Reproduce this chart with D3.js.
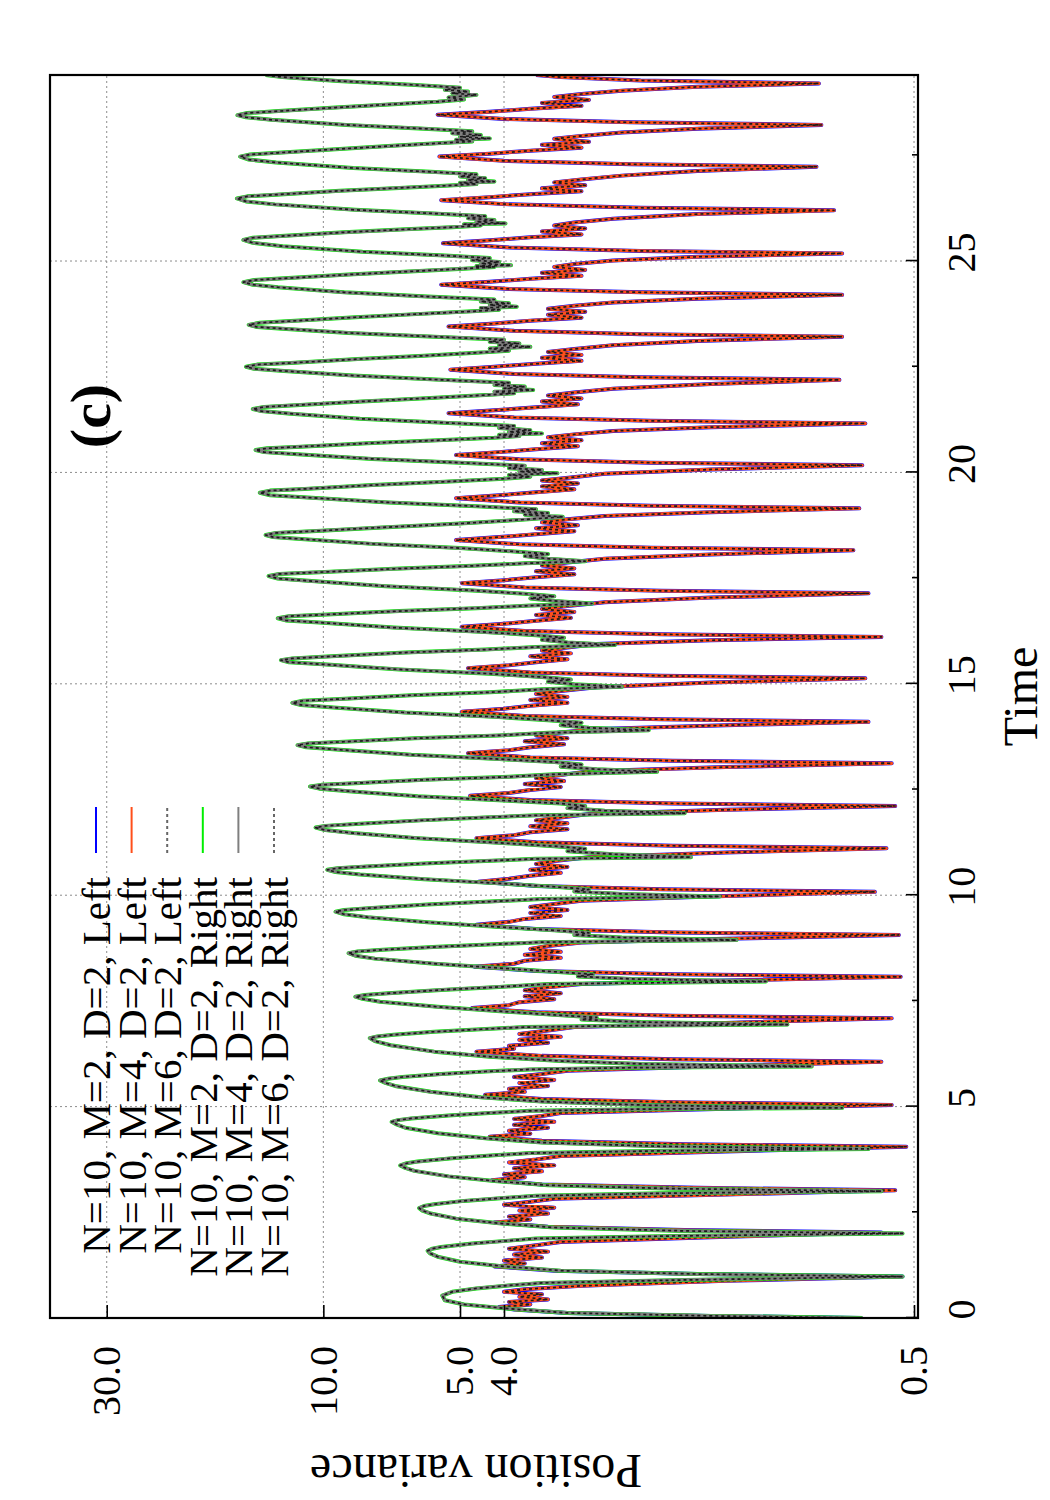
<!DOCTYPE html>
<html>
<head>
<meta charset="utf-8">
<script src="https://cdn.jsdelivr.net/npm/d3@7"></script>
<style>
  body { margin: 0; background: #ffffff; }
  svg text { font-family: "Liberation Serif", "Times New Roman", serif; }
</style>
</head>
<body>
<svg id="chart"></svg>
<script>
// time ticks and variance ticks
var timeTicks = [0, 5, 10, 15, 20, 25];
var timeMinorTicks = [2.5, 7.5, 12.5, 17.5, 22.5, 27.5];
var varianceTicks = [0.5, 4.0, 5.0, 10.0, 30.0];

var seriesLabels = [
    "N=10, M=2, D=2, Left",
    "N=10, M=4, D=2, Left",
    "N=10, M=6, D=2, Left",
    "N=10, M=2, D=2, Right",
    "N=10, M=4, D=2, Right",
    "N=10, M=6, D=2, Right"
];
var seriesSide = ["Left", "Left", "Left", "Right", "Right", "Right"];

// [time, position variance], left boundary
var leftData = [
    [0,0.65],[0.05,1.4],[0.12,2.9],[0.2,3.8],[0.26,4.1],[0.32,3.5],[0.38,3.9],[0.44,3.2],[0.5,3.7],[0.56,3.3],[0.62,4.0],[0.68,3.6],[0.76,2.7],[0.88,1.3],
    [0.98,0.53],[1.04,1.5],[1.12,3.1],[1.22,4.2],[1.29,3.6],[1.36,4.0],[1.43,3.3],[1.5,3.8],[1.57,3.2],[1.64,3.9],[1.72,3.4],[1.8,3.0],[1.91,1.4],
    [2.02,0.59],[2.08,1.6],[2.16,3.2],[2.26,4.2],[2.33,3.5],[2.4,3.9],[2.47,3.2],[2.54,3.7],[2.61,3.1],[2.68,4.0],[2.75,3.5],[2.82,3.1],[2.92,1.3],
    [3.02,0.55],[3.08,1.5],[3.16,3.3],[3.26,4.25],[3.33,3.6],[3.4,4.0],[3.47,3.3],[3.54,3.8],[3.61,3.1],[3.68,3.9],[3.75,3.4],[3.83,3.0],[3.94,1.3],
    [4.05,0.52],[4.11,1.6],[4.19,3.3],[4.29,4.3],[4.36,3.5],[4.43,3.9],[4.5,3.2],[4.57,3.8],[4.64,3.1],[4.71,3.8],[4.78,3.3],[4.85,3.0],[4.95,1.3],
    [5.04,0.56],[5.1,1.6],[5.18,3.3],[5.28,4.4],[5.35,3.6],[5.42,3.9],[5.49,3.2],[5.56,3.7],[5.63,3.1],[5.7,3.8],[5.77,3.3],[5.85,2.9],[5.96,1.3],
    [6.06,0.59],[6.12,1.7],[6.2,3.3],[6.3,4.6],[6.37,3.8],[6.44,3.9],[6.51,3.2],[6.58,3.7],[6.65,3.0],[6.72,3.7],[6.8,3.2],[6.88,2.8],[6.98,1.3],
    [7.09,0.56],[7.15,1.7],[7.23,3.4],[7.33,4.7],[7.4,3.9],[7.47,3.7],[7.54,3.1],[7.61,3.6],[7.68,3.0],[7.75,3.6],[7.82,3.2],[7.9,2.7],[7.98,1.3],
    [8.07,0.535],[8.13,1.7],[8.21,3.4],[8.31,4.65],[8.38,3.8],[8.45,3.6],[8.52,3.0],[8.59,3.6],[8.66,3.0],[8.73,3.5],[8.8,3.2],[8.88,2.7],[8.97,1.3],
    [9.06,0.54],[9.12,1.7],[9.2,3.4],[9.3,4.6],[9.37,3.9],[9.44,3.6],[9.51,3.0],[9.58,3.5],[9.65,2.9],[9.72,3.5],[9.79,3.1],[9.87,2.7],[9.98,1.3],
    [10.08,0.61],[10.14,1.8],[10.22,3.4],[10.32,4.55],[10.39,3.9],[10.46,3.5],[10.53,3.0],[10.6,3.5],[10.67,2.9],[10.74,3.4],[10.81,3.1],[10.9,2.6],[11.01,1.3],
    [11.11,0.575],[11.17,1.7],[11.25,3.4],[11.35,4.6],[11.42,3.8],[11.49,3.5],[11.56,2.9],[11.63,3.5],[11.7,2.9],[11.77,3.4],[11.84,3.0],[11.92,2.6],[12.02,1.3],
    [12.11,0.55],[12.17,1.7],[12.25,3.5],[12.35,4.75],[12.42,3.9],[12.49,3.5],[12.56,3.0],[12.63,3.6],[12.7,2.95],[12.77,3.4],[12.84,3.0],[12.93,2.6],[13.03,1.3],
    [13.12,0.56],[13.18,1.7],[13.26,3.5],[13.36,4.8],[13.43,3.9],[13.5,3.5],[13.57,2.95],[13.64,3.6],[13.71,2.9],[13.78,3.4],[13.85,3.0],[13.93,2.5],[14.02,1.3],
    [14.1,0.63],[14.16,1.8],[14.24,3.6],[14.34,4.95],[14.41,4.0],[14.48,3.5],[14.55,2.9],[14.62,3.5],[14.69,2.9],[14.76,3.4],[14.83,3.0],[14.92,2.5],[15.03,1.4],
    [15.13,0.64],[15.19,1.8],[15.27,3.5],[15.37,4.8],[15.44,3.9],[15.51,3.4],[15.58,2.9],[15.65,3.5],[15.72,2.85],[15.79,3.3],[15.86,2.9],[15.94,2.5],[16.03,1.4],
    [16.11,0.59],[16.17,1.8],[16.25,3.6],[16.35,4.95],[16.42,4.0],[16.49,3.4],[16.56,2.85],[16.63,3.4],[16.7,2.8],[16.77,3.3],[16.84,2.9],[16.93,2.4],[17.04,1.4],
    [17.14,0.63],[17.2,1.8],[17.28,3.6],[17.38,4.95],[17.45,4.0],[17.52,3.4],[17.59,2.8],[17.66,3.4],[17.73,2.8],[17.8,3.3],[17.87,2.9],[17.96,2.4],[18.06,1.4],
    [18.16,0.68],[18.22,1.9],[18.3,3.7],[18.4,5.1],[18.47,4.1],[18.54,3.4],[18.61,2.8],[18.68,3.4],[18.75,2.75],[18.82,3.3],[18.89,2.9],[18.97,2.4],[19.06,1.4],
    [19.15,0.66],[19.21,1.9],[19.29,3.7],[19.39,5.1],[19.46,4.1],[19.53,3.4],[19.6,2.8],[19.67,3.3],[19.74,2.75],[19.81,3.3],[19.88,2.85],[19.97,2.4],[20.07,1.4],
    [20.17,0.65],[20.23,1.9],[20.31,3.7],[20.41,5.1],[20.48,4.1],[20.55,3.4],[20.62,2.75],[20.69,3.3],[20.76,2.7],[20.83,3.2],[20.9,2.8],[20.98,2.3],[21.07,1.4],
    [21.16,0.64],[21.22,1.9],[21.3,3.8],[21.4,5.3],[21.47,4.2],[21.54,3.4],[21.61,2.75],[21.68,3.3],[21.75,2.7],[21.82,3.2],[21.89,2.8],[21.98,2.3],[22.09,1.4],
    [22.19,0.73],[22.25,2.0],[22.33,3.8],[22.43,5.25],[22.5,4.2],[22.57,3.4],[22.64,2.7],[22.71,3.3],[22.78,2.7],[22.85,3.2],[22.92,2.8],[23.01,2.3],[23.11,1.5],
    [23.21,0.72],[23.27,2.0],[23.35,3.8],[23.45,5.3],[23.52,4.2],[23.59,3.5],[23.66,2.7],[23.73,3.2],[23.8,2.65],[23.87,3.2],[23.94,2.8],[24.02,2.3],[24.11,1.5],
    [24.2,0.72],[24.26,2.0],[24.34,3.9],[24.44,5.5],[24.51,4.3],[24.58,3.5],[24.65,2.7],[24.72,3.3],[24.79,2.65],[24.86,3.1],[24.93,2.8],[25.01,2.3],[25.1,1.5],
    [25.18,0.72],[25.24,2.0],[25.32,3.9],[25.42,5.45],[25.49,4.3],[25.56,3.5],[25.63,2.7],[25.7,3.3],[25.77,2.65],[25.84,3.1],[25.91,2.8],[26.0,2.3],[26.11,1.5],
    [26.2,0.75],[26.26,2.0],[26.34,3.9],[26.44,5.5],[26.51,4.3],[26.58,3.5],[26.65,2.7],[26.72,3.3],[26.79,2.65],[26.86,3.1],[26.93,2.7],[27.02,2.2],[27.13,1.5],
    [27.23,0.82],[27.29,2.1],[27.37,4.0],[27.47,5.55],[27.54,4.3],[27.61,3.5],[27.68,2.7],[27.75,3.3],[27.82,2.6],[27.89,3.1],[27.96,2.7],[28.04,2.2],[28.13,1.5],
    [28.22,0.8],[28.28,2.1],[28.36,4.0],[28.46,5.6],[28.53,4.3],[28.6,3.5],[28.67,2.7],[28.74,3.3],[28.81,2.6],[28.88,3.1],[28.95,2.7],[29.03,2.2],[29.12,1.5],
    [29.2,0.81],[29.27,2.0],[29.35,3.0],[29.4,3.4]
];

// [time, position variance], right boundary
var rightData = [
    [0,0.65],[0.05,1.4],[0.12,2.9],[0.22,3.9],[0.32,4.9],[0.42,5.4],[0.53,5.47],[0.62,5.2],[0.7,4.6],[0.77,3.9],[0.83,3.3],[0.9,1.6],
    [0.98,0.53],[1.04,1.5],[1.12,3.0],[1.22,4.0],[1.33,5.0],[1.45,5.6],[1.53,5.82],[1.59,5.89],[1.64,5.75],[1.68,5.5],[1.76,4.7],[1.83,3.9],[1.88,3.4],[1.94,1.7],
    [2.0,0.53],[2.06,1.6],[2.14,3.1],[2.24,4.1],[2.35,5.1],[2.47,5.8],[2.54,6.05],[2.6,6.15],[2.65,6.0],[2.69,5.7],[2.77,4.9],[2.84,4.0],[2.89,3.4],[2.95,1.8],
    [3.0,0.59],[3.06,1.7],[3.14,3.2],[3.24,4.2],[3.35,5.3],[3.48,6.3],[3.55,6.6],[3.61,6.77],[3.66,6.55],[3.7,6.2],[3.78,5.2],[3.85,4.2],[3.9,3.5],[3.95,1.9],
    [4.0,0.63],[4.06,1.8],[4.15,3.3],[4.25,4.4],[4.37,5.6],[4.5,6.6],[4.58,6.9],[4.64,7.07],[4.68,6.85],[4.72,6.4],[4.79,5.3],[4.85,4.3],[4.9,3.5],[4.94,2.0],
    [4.97,0.72],[5.03,1.9],[5.12,3.3],[5.22,4.5],[5.35,5.8],[5.48,6.9],[5.56,7.3],[5.62,7.5],[5.66,7.2],[5.7,6.7],[5.77,5.5],[5.83,4.4],[5.88,3.5],[5.92,2.1],
    [5.95,0.84],[6.01,2.0],[6.08,3.0],[6.18,4.3],[6.3,5.7],[6.45,7.1],[6.55,7.7],[6.62,7.9],[6.66,7.6],[6.7,7.0],[6.77,5.7],[6.83,4.5],[6.88,3.6],[6.91,2.3],
    [6.94,0.95],[7.0,2.0],[7.06,2.7],[7.11,2.5],[7.17,3.1],[7.25,4.0],[7.36,5.6],[7.48,7.5],[7.55,8.2],[7.6,8.5],[7.64,8.1],[7.68,7.2],[7.76,5.5],[7.83,4.1],[7.9,3.2],
    [7.96,1.06],[8.02,2.1],[8.08,2.75],[8.13,2.55],[8.19,3.1],[8.27,4.0],[8.38,5.7],[8.5,7.7],[8.57,8.5],[8.63,8.8],[8.67,8.4],[8.71,7.4],[8.78,5.6],[8.84,4.2],[8.89,3.3],
    [8.94,1.23],[9.0,2.2],[9.06,2.8],[9.11,2.6],[9.17,3.1],[9.25,4.1],[9.36,5.9],[9.48,8.0],[9.55,9.0],[9.61,9.4],[9.65,9.0],[9.7,7.8],[9.78,5.9],[9.85,4.3],[9.91,3.3],
    [9.97,1.34],[10.03,2.2],[10.09,2.8],[10.14,2.6],[10.2,3.1],[10.28,4.1],[10.38,6.0],[10.49,8.3],[10.55,9.4],[10.6,9.8],[10.64,9.3],[10.68,8.0],[10.75,6.0],[10.81,4.4],[10.86,3.4],
    [10.9,1.55],[10.97,2.3],[11.04,2.9],[11.1,2.65],[11.16,3.1],[11.24,4.1],[11.35,6.2],[11.47,8.6],[11.54,9.9],[11.6,10.4],[11.64,9.9],[11.69,8.3],[11.77,6.1],[11.84,4.4],[11.89,3.4],
    [11.94,1.6],[12.0,2.4],[12.06,2.9],[12.11,2.65],[12.17,3.0],[12.24,4.0],[12.34,6.2],[12.46,8.8],[12.52,10.2],[12.57,10.7],[12.61,10.1],[12.65,8.5],[12.73,6.0],[12.8,3.9],[12.86,3.1],
    [12.92,1.84],[12.98,2.5],[13.04,3.0],[13.09,2.7],[13.15,3.1],[13.22,4.1],[13.32,6.4],[13.44,9.2],[13.5,10.9],[13.55,11.4],[13.59,10.8],[13.63,9.0],[13.71,6.3],[13.78,4.1],[13.84,3.2],
    [13.9,1.92],[13.96,2.6],[14.02,3.0],[14.08,2.7],[14.14,3.2],[14.22,4.2],[14.32,6.6],[14.44,9.5],[14.5,11.2],[14.55,11.7],[14.6,11.1],[14.64,9.2],[14.73,6.4],[14.8,4.3],[14.87,3.3],
    [14.93,2.2],[14.99,2.8],[15.05,3.2],[15.1,2.85],[15.16,3.3],[15.24,4.3],[15.34,6.8],[15.46,10.0],[15.51,11.9],[15.56,12.4],[15.6,11.7],[15.65,9.6],[15.74,6.6],[15.81,4.4],[15.87,3.4],
    [15.92,2.28],[15.98,2.9],[16.04,3.3],[16.09,2.95],[16.15,3.4],[16.23,4.5],[16.33,7.0],[16.45,10.2],[16.5,12.1],[16.55,12.6],[16.6,11.9],[16.64,9.8],[16.72,6.8],[16.79,4.6],[16.85,3.5],
    [16.9,2.56],[16.96,3.1],[17.02,3.5],[17.07,3.1],[17.13,3.6],[17.21,4.7],[17.31,7.3],[17.43,10.6],[17.49,12.6],[17.55,13.2],[17.6,12.5],[17.64,10.2],[17.72,7.0],[17.79,4.7],[17.85,3.6],
    [17.9,2.65],[17.96,3.2],[18.02,3.6],[18.07,3.2],[18.13,3.8],[18.21,5.0],[18.31,7.8],[18.42,11.0],[18.47,12.9],[18.52,13.4],[18.57,12.7],[18.61,10.6],[18.7,7.4],[18.79,5.0],[18.87,3.8],
    [18.95,2.97],[19.0,3.6],[19.04,3.2],[19.08,3.8],[19.13,3.4],[19.2,4.6],[19.29,7.2],[19.4,10.6],[19.46,13.1],[19.52,13.8],[19.57,13.1],[19.61,11.0],[19.7,7.8],[19.78,5.4],[19.85,4.0],[19.9,3.5],[19.94,3.9],
    [19.98,3.05],[20.02,3.7],[20.06,3.3],[20.1,3.9],[20.16,3.6],[20.23,5.0],[20.32,7.8],[20.43,11.4],[20.48,13.5],[20.53,14.1],[20.57,13.3],[20.61,11.2],[20.69,8.0],[20.76,5.6],[20.82,4.2],[20.86,3.7],[20.89,4.1],
    [20.92,3.3],[20.96,3.9],[21.0,3.5],[21.05,4.1],[21.1,3.8],[21.17,5.3],[21.27,8.3],[21.39,11.8],[21.45,13.7],[21.5,14.3],[21.55,13.5],[21.59,11.5],[21.68,8.2],[21.76,5.8],[21.83,4.4],[21.87,3.8],[21.91,4.2],
    [21.95,3.45],[21.99,4.0],[22.03,3.6],[22.07,4.2],[22.12,3.9],[22.19,5.5],[22.29,8.6],[22.4,12.2],[22.45,14.2],[22.5,14.8],[22.55,14.0],[22.59,11.8],[22.68,8.4],[22.76,6.0],[22.83,4.6],[22.88,3.9],[22.93,4.3],
    [22.97,3.5],[23.01,4.1],[23.05,3.7],[23.09,4.3],[23.14,4.0],[23.21,5.7],[23.3,8.8],[23.4,12.3],[23.44,14.0],[23.49,14.6],[23.54,13.8],[23.58,11.8],[23.67,8.5],[23.75,6.1],[23.81,4.7],[23.85,4.1],[23.89,4.5],
    [23.92,3.75],[23.96,4.3],[24.0,3.9],[24.04,4.5],[24.09,4.2],[24.16,5.9],[24.26,9.0],[24.38,12.6],[24.44,14.3],[24.5,15.0],[24.55,14.2],[24.59,12.2],[24.68,8.8],[24.76,6.3],[24.82,4.9],[24.86,4.2],[24.88,4.6],
    [24.9,3.86],[24.94,4.5],[24.98,4.1],[25.02,4.7],[25.07,4.3],[25.13,5.4],[25.22,8.2],[25.35,12.3],[25.43,14.3],[25.5,15.0],[25.55,14.3],[25.59,12.4],[25.68,9.0],[25.75,6.6],[25.8,5.2],[25.84,4.5],[25.87,4.9],
    [25.89,3.97],[25.93,4.6],[25.97,4.2],[26.01,4.8],[26.06,4.4],[26.12,5.6],[26.21,8.5],[26.34,12.8],[26.41,14.8],[26.48,15.5],[26.53,14.7],[26.57,12.7],[26.66,9.2],[26.73,6.8],[26.78,5.4],[26.82,4.6],[26.85,5.0],
    [26.88,4.2],[26.92,4.8],[26.96,4.4],[27.0,5.0],[27.05,4.6],[27.11,5.8],[27.2,8.6],[27.33,12.7],[27.4,14.6],[27.47,15.25],[27.52,14.5],[27.56,12.6],[27.65,9.2],[27.73,6.9],[27.79,5.5],[27.83,4.7],[27.87,5.1],
    [27.9,4.3],[27.94,5.0],[27.98,4.5],[28.02,5.2],[28.07,4.7],[28.13,6.0],[28.22,8.9],[28.34,13.0],[28.4,14.8],[28.45,15.46],[28.5,14.7],[28.54,12.8],[28.63,9.4],[28.71,7.0],[28.77,5.6],[28.82,4.9],[28.87,5.3],
    [28.93,4.6],[28.97,5.2],[29.01,4.8],[29.05,5.4],[29.1,5.0],[29.17,6.4],[29.26,9.3],[29.35,12.3],[29.4,13.4]
];

// line styles, kept apart from the values
var seriesStyles = [
    { color: "#0000ff", width: 4.0, dash: null },
    { color: "#ff4f1a", width: 3.2, dash: null },
    { color: "#1a1a1a", width: 1.7, dash: "3,3" },
    { color: "#00ee00", width: 4.0, dash: null },
    { color: "#7f7f7f", width: 3.2, dash: null },
    { color: "#1a1a1a", width: 1.7, dash: "3,3" }
];

var W = 1050, H = 1500;
// plot area in the unrotated frame (u along time, v along variance)
var uLeft = 182, uRight = 1425, vTop = 50, vBottom = 918;

var svg = d3.select("#chart")
    .attr("width", W)
    .attr("height", H)
;

svg.append("rect")
    .attr("width", W)
    .attr("height", H)
    .attr("fill", "#ffffff")
;

// whole gnuplot page is turned a quarter turn counter clockwise
var page = svg.append("g")
    .attr("transform", "translate(0," + H + ") rotate(-90)")
;

var x = d3.scaleLinear().domain([0, 29.4]).range([uLeft, uRight]);
var y = d3.scaleLog().domain([0.49, 40]).range([vBottom, vTop]);

page.append("clipPath")
    .attr("id", "plotClip")
    .append("rect")
        .attr("x", uLeft)
        .attr("y", vTop)
        .attr("width", uRight - uLeft)
        .attr("height", vBottom - vTop)
;

// grid
var grid = page.append("g").attr("class", "grid")
    .attr("stroke", "#8c8c8c")
    .attr("stroke-width", 1)
    .attr("stroke-dasharray", "2,3")
;
grid.selectAll("line.gx").data(timeTicks).enter().append("line")
    .attr("class", "gx")
    .attr("x1", function(d){ return x(d); })
    .attr("x2", function(d){ return x(d); })
    .attr("y1", vTop)
    .attr("y2", vBottom)
;
grid.selectAll("line.gy").data(varianceTicks).enter().append("line")
    .attr("class", "gy")
    .attr("x1", uLeft)
    .attr("x2", uRight)
    .attr("y1", function(d){ return y(d); })
    .attr("y2", function(d){ return y(d); })
;

// curves
var line = d3.line()
    .x(function(d){ return x(d[0]); })
    .y(function(d){ return y(d[1]); })
;

var curves = page.append("g").attr("clip-path", "url(#plotClip)");
seriesLabels.forEach(function(name, i){
    var st = seriesStyles[i];
    var data = seriesSide[i] === "Left" ? leftData : rightData;
    curves.append("path")
        .datum(data)
        .attr("d", line)
        .attr("fill", "none")
        .attr("stroke", st.color)
        .attr("stroke-width", st.width)
        .attr("stroke-linejoin", "round")
        .attr("stroke-dasharray", st.dash)
    ;
});

// axes, ticks point inward like gnuplot
var xAxis = d3.axisBottom(x)
    .tickValues(timeTicks)
    .tickFormat(d3.format("d"))
    .tickSizeInner(-12)
    .tickSizeOuter(0)
    .tickPadding(29)
;
var xMinor = d3.axisBottom(x)
    .tickValues(timeMinorTicks)
    .tickFormat("")
    .tickSizeInner(-6)
    .tickSizeOuter(0)
;
var yAxis = d3.axisLeft(y)
    .tickValues(varianceTicks)
    .tickFormat(d3.format(".1f"))
    .tickSizeInner(-13)
    .tickSizeOuter(0)
    .tickPadding(28)
;

var gx = page.append("g").attr("transform", "translate(0," + vBottom + ")").call(xAxis);
page.append("g").attr("transform", "translate(0," + vBottom + ")").call(xMinor);
var gy = page.append("g").attr("transform", "translate(" + uLeft + ",0)").call(yAxis);

page.selectAll(".domain").remove();
page.selectAll(".tick line").attr("stroke", "#000").attr("stroke-width", 1.6);
gx.selectAll("text")
    .attr("font-size", 40)
    .attr("fill", "#000")
    .attr("dx", 8)
;
gy.selectAll("text")
    .attr("font-size", 40)
    .attr("fill", "#000")
;

// frame
page.append("rect")
    .attr("x", uLeft)
    .attr("y", vTop)
    .attr("width", uRight - uLeft)
    .attr("height", vBottom - vTop)
    .attr("fill", "none")
    .attr("stroke", "#000")
    .attr("stroke-width", 2.2)
;

// axis titles
page.append("text")
    .attr("x", (uLeft + uRight) / 2)
    .attr("y", 1037)
    .attr("text-anchor", "middle")
    .attr("font-size", 48)
    .text("Time")
;
page.append("text")
    .attr("transform", "translate(45," + ((vTop + vBottom) / 2 - 8) + ") rotate(-90)")
    .attr("text-anchor", "middle")
    .attr("font-size", 48)
    .text("Position variance")
;

// panel tag
page.append("text")
    .attr("x", 1084)
    .attr("y", 110)
    .attr("text-anchor", "middle")
    .attr("font-size", 58)
    .attr("font-weight", "bold")
    .text("(c)")
;

// key
var key = page.append("g").attr("class", "key");
seriesLabels.forEach(function(name, i){
    var base = 110 + i * 35.6;
    var st = seriesStyles[i];
    key.append("text")
        .attr("x", 623)
        .attr("y", base)
        .attr("text-anchor", "end")
        .attr("font-size", 41)
        .text(name)
    ;
    key.append("line")
        .attr("x1", 647)
        .attr("x2", 693)
        .attr("y1", base - 14)
        .attr("y2", base - 14)
        .attr("stroke", st.dash ? "#666" : st.color)
        .attr("stroke-width", 2)
        .attr("stroke-dasharray", st.dash)
    ;
});

console.log("chart drawn, points:", leftData.length, rightData.length);
</script>
</body>
</html>
